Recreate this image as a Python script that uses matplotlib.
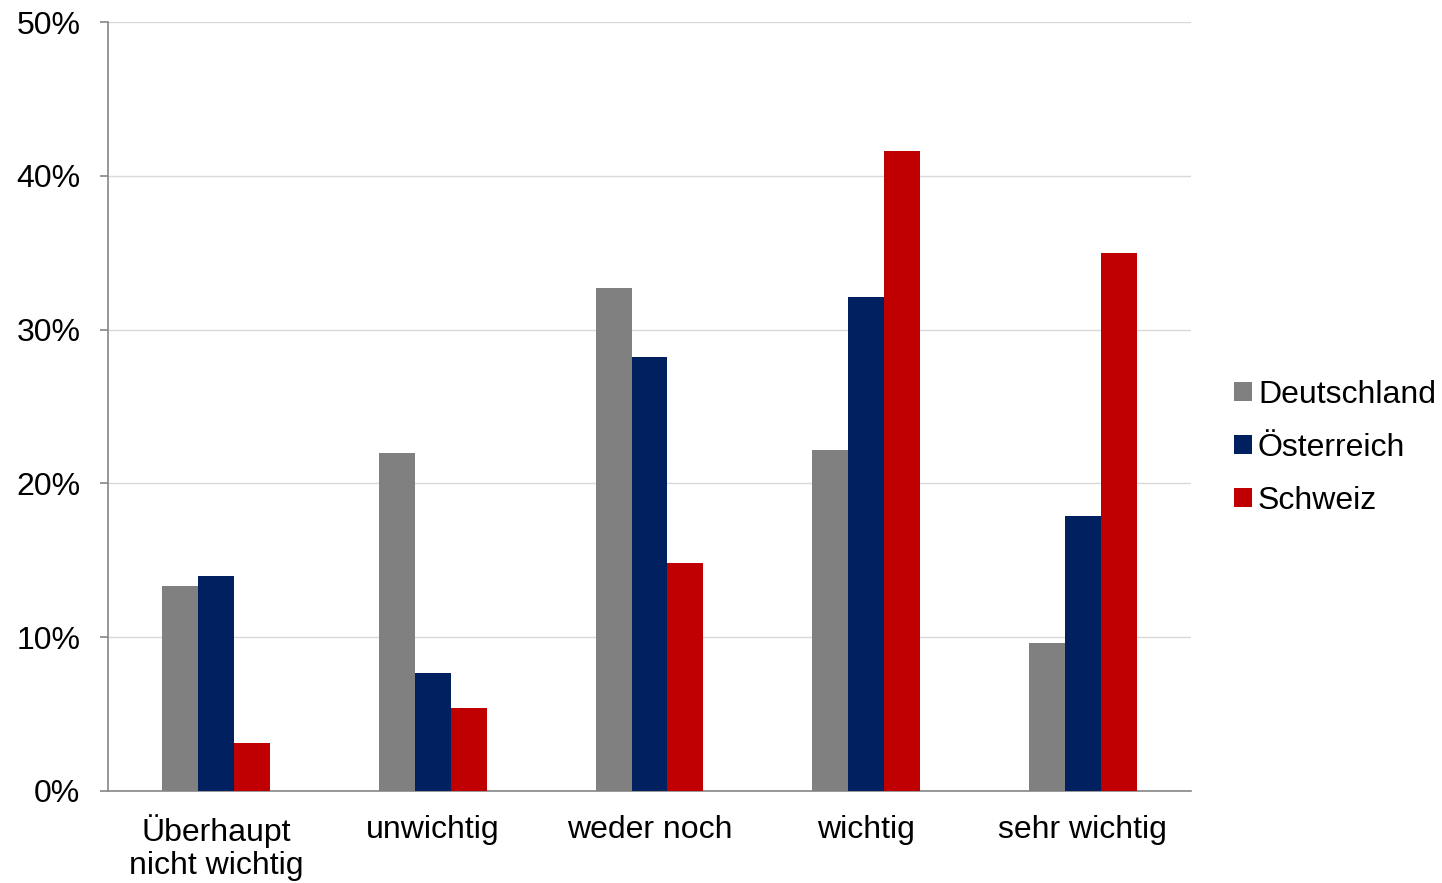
import matplotlib
matplotlib.use("Agg")
import matplotlib.pyplot as plt
import numpy as np
from matplotlib.ticker import PercentFormatter, MultipleLocator

plt.rcParams['font.family'] = ['Liberation Sans', 'DejaVu Sans']

categories = ["Überhaupt\nnicht wichtig", "unwichtig", "weder noch", "wichtig", "sehr wichtig"]
deutschland = [13.3, 22.0, 32.7, 22.2, 9.6]
oesterreich = [14.0, 7.7, 28.2, 32.1, 17.9]
schweiz = [3.1, 5.4, 14.8, 41.6, 35.0]
series_names = ["Deutschland", "Österreich", "Schweiz"]
colors = ["#808080", "#002060", "#C00000"]

fig = plt.figure(figsize=(14.42, 8.83), dpi=100)
ax = fig.add_axes([108 / 1442, 1 - 791 / 883, (1191 - 108) / 1442, (791 - 22) / 883])

x = np.arange(len(categories))
w = 0.166
for i, (vals, name, col) in enumerate(zip([deutschland, oesterreich, schweiz], series_names, colors)):
    ax.bar(x + (i - 1) * w, vals, width=w, color=col, label=name, zorder=3)

ax.set_xlim(-0.5, len(categories) - 0.5)
ax.set_ylim(0, 50)
ax.yaxis.set_major_locator(MultipleLocator(10))
ax.yaxis.set_major_formatter(PercentFormatter(decimals=0))
ax.grid(axis='y', color='#D9D9D9', linewidth=1, zorder=0)

for side in ['top', 'right']:
    ax.spines[side].set_visible(False)
for side in ['left', 'bottom']:
    ax.spines[side].set_color('#868686')
    ax.spines[side].set_linewidth(1.2)

ax.set_xticks(x)
ax.set_xticklabels(categories, fontsize=23, linespacing=1.12)
ax.tick_params(axis='x', length=0, pad=17)
ax.tick_params(axis='y', length=5.8, width=1.2, color='#868686', pad=14, labelsize=23)

fig.legend(loc='center left', bbox_to_anchor=(1234 / 1442, 1 - 448 / 883), frameon=False,
           fontsize=23, handlelength=0.55, handleheight=0.55, handletextpad=0.2,
           labelspacing=0.72, borderpad=0, borderaxespad=0)

fig.savefig("out.png", dpi=100)
